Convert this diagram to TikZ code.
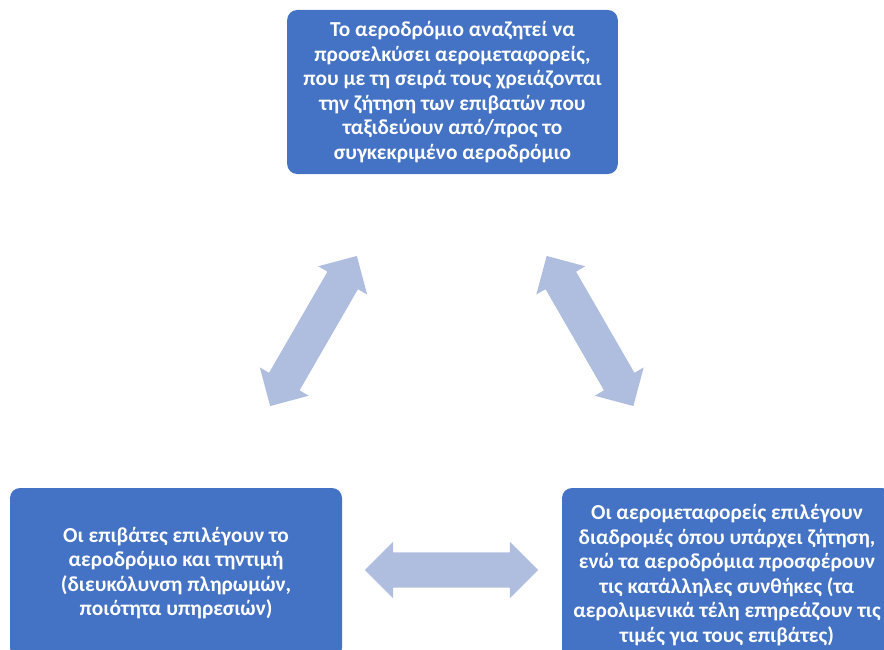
\documentclass[tikz,border=0pt]{standalone}
\usepackage{fontspec}
\setmainfont{Carlito}
\usetikzlibrary{shapes.arrows}
\definecolor{boxblue}{HTML}{4472C4}
\definecolor{linkblue}{HTML}{AFBDDF}
\tikzset{
  infobox/.style={fill=boxblue, rounded corners=7.5pt, text=white, align=center,
    font=\bfseries\fontsize{16}{18.4}\selectfont, inner sep=0pt},
  link/.style={double arrow, fill=linkblue, draw=none, inner xsep=0pt, inner ysep=13pt,
    double arrow head extend=8pt, double arrow tip angle=90, minimum height=130pt}
}
\begin{document}
\begin{tikzpicture}[x=0.75pt, y=-0.75pt]
	\useasboundingbox (0,0) rectangle (884,649);
	\clip (0,0) rectangle (884,649);
	% the three parties
	\node[infobox, minimum width=248pt, minimum height=123pt] (airport) at (452.5,92)
		{Το αεροδρόμιο αναζητεί να\\ προσελκύσει αερομεταφορείς,\\ που με τη σειρά τους χρειάζονται\\ την ζήτηση των επιβατών που\\ ταξιδεύουν από/προς το\\ συγκεκριμένο αεροδρόμιο};
	\node[infobox, minimum width=249pt, minimum height=127.5pt] (pax) at (176,573)
		{Οι επιβάτες επιλέγουν το\\ αεροδρόμιο και τηντιμή\\ (διευκόλυνση πληρωμών,\\ ποιότητα υπηρεσιών)};
	\node[infobox, minimum width=247.5pt, minimum height=130.5pt] (airlines) at (727,575)
		{Οι αερομεταφορείς επιλέγουν\\ διαδρομές όπου υπάρχει ζήτηση,\\ ενώ τα αεροδρόμια προσφέρουν\\ τις κατάλληλες συνθήκες (τα\\ αερολιμενικά τέλη επηρεάζουν τις\\ τιμές για τους επιβάτες)};
	% two-way links
	\node[link, rotate=60] (linkL) at (313.5,331) {};
	\node[link, rotate=120] (linkR) at (590,331) {};
	\node[link] (linkB) at (451.5,570) {};
\end{tikzpicture}
\end{document}
